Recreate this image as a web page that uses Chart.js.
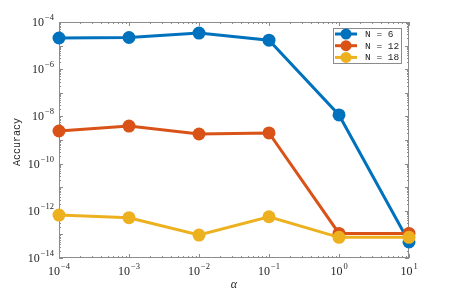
<!DOCTYPE html>
<html>
<head>
<meta charset="utf-8">
<script src="https://cdn.jsdelivr.net/npm/chart.js@4/dist/chart.umd.min.js"></script>
<style>
  html, body { margin: 0; padding: 0; background: #fff; }
  #wrap { width: 452px; height: 292px; }
</style>
</head>
<body>
<div id="wrap"><canvas id="myChart" width="452" height="292"></canvas></div>
<script>
const alphaValues = [1e-4, 1e-3, 1e-2, 1e-1, 1, 10];
const accN6 = [2.1e-5, 2.2e-5, 3.4e-5, 1.7e-5, 1.15e-8, 4.8e-14];
const accN12 = [2.4e-9, 3.9e-9, 1.8e-9, 2.0e-9, 1.1e-13, 1.1e-13];
const accN18 = [6.6e-13, 5.1e-13, 9.4e-14, 5.6e-13, 7.5e-14, 7.5e-14];
const seriesLabels = ['N = 6', 'N = 12', 'N = 18'];
const seriesColors = ['#0072BD', '#D95319', '#EDB120'];
const xTickExps = [-4, -3, -2, -1, 0, 1];
const yTickExps = [-14, -12, -10, -8, -6, -4];

function toPoints(ys) {
  return alphaValues.map((a, i) => ({ x: a, y: ys[i] }));
}

const axisColor = '#8c8c8c';
const textColor = '#262626';

// box, log ticks, superscript labels, titles and legend, matlab style
const matlabAxes = {
  id: 'matlabAxes',
  beforeDatasetsDraw(chart) {
    const { ctx, chartArea: ca } = chart;
    const xs = chart.scales.x;
    const ys = chart.scales.y;
    ctx.save();
    ctx.strokeStyle = axisColor;
    ctx.lineWidth = 1;
    ctx.strokeRect(ca.left + 0.5, ca.top + 0.5, ca.right - ca.left - 1, ca.bottom - ca.top - 1);

    ctx.beginPath();
    // x ticks
    for (let e = -4; e <= 1; e++) {
      for (let m = 1; m <= 9; m++) {
        const v = m * Math.pow(10, e);
        const px = Math.round(xs.getPixelForValue(v)) + 0.5;
        const len = m === 1 ? 4 : 2;
        ctx.moveTo(px, ca.bottom); ctx.lineTo(px, ca.bottom - len);
        ctx.moveTo(px, ca.top); ctx.lineTo(px, ca.top + len);
        if (e === 1) break;
      }
    }
    // y ticks
    for (let e = -14; e <= -4; e++) {
      for (let m = 1; m <= 9; m++) {
        const v = m * Math.pow(10, e);
        const py = Math.round(ys.getPixelForValue(v)) + 0.5;
        const len = m === 1 ? 4 : 2;
        ctx.moveTo(ca.left, py); ctx.lineTo(ca.left + len, py);
        ctx.moveTo(ca.right, py); ctx.lineTo(ca.right - len, py);
        if (e === -4) break;
      }
    }
    ctx.stroke();

    // tick labels with superscripts
    ctx.fillStyle = textColor;
    ctx.textBaseline = 'alphabetic';
    const baseFont = '12px "Liberation Serif"';
    const supFont = '8.5px "Liberation Serif"';
    xTickExps.forEach(e => {
      const px = xs.getPixelForValue(Math.pow(10, e));
      const sup = e < 0 ? '\u2212' + Math.abs(e) : String(e);
      ctx.font = baseFont;
      const wb = ctx.measureText('10').width;
      ctx.font = supFont;
      const ws = ctx.measureText(sup).width;
      const x0 = px - (wb + 1 + ws) / 2;
      ctx.font = baseFont;
      ctx.textAlign = 'left';
      ctx.fillText('10', x0, ca.bottom + 17);
      ctx.font = supFont;
      ctx.fillText(sup, x0 + wb + 1, ca.bottom + 11);
    });
    yTickExps.forEach(e => {
      const py = ys.getPixelForValue(Math.pow(10, e));
      const sup = '\u2212' + Math.abs(e);
      ctx.font = supFont;
      const ws = ctx.measureText(sup).width;
      ctx.textAlign = 'left';
      const xr = ca.left - 5;
      ctx.fillText(sup, xr - ws, py - 2);
      ctx.font = baseFont;
      ctx.textAlign = 'right';
      ctx.fillText('10', xr - ws - 1, py + 4);
    });

    // axis titles
    ctx.font = '10px "Liberation Mono"';
    ctx.textAlign = 'center';
    ctx.save();
    ctx.translate(17, (ca.top + ca.bottom) / 2 + 2);
    ctx.rotate(-Math.PI / 2);
    ctx.textBaseline = 'middle';
    ctx.fillText('Accuracy', 0, 0);
    ctx.restore();
    ctx.font = 'italic 12px "Liberation Serif"';
    ctx.textBaseline = 'alphabetic';
    ctx.fillText('\u03b1', (ca.left + ca.right) / 2, 288);
    ctx.restore();
  },
  afterDatasetsDraw(chart) {
    const { ctx } = chart;
    ctx.save();
    // legend
    const lx = 333, ly = 28, lw = 69, lh = 36;
    ctx.fillStyle = '#fff';
    ctx.fillRect(lx, ly, lw, lh);
    ctx.strokeStyle = axisColor;
    ctx.lineWidth = 1;
    ctx.strokeRect(lx + 0.5, ly + 0.5, lw - 1, lh - 1);
    seriesLabels.forEach((label, i) => {
      const yy = ly + 6 + i * 11.7;
      ctx.strokeStyle = seriesColors[i];
      ctx.lineWidth = 3;
      ctx.beginPath();
      ctx.moveTo(lx + 2, yy); ctx.lineTo(lx + 24, yy);
      ctx.stroke();
      ctx.fillStyle = seriesColors[i];
      ctx.beginPath();
      ctx.arc(lx + 13, yy, 5.5, 0, Math.PI * 2);
      ctx.fill();
      ctx.fillStyle = textColor;
      ctx.font = '9.5px "Liberation Mono"';
      ctx.textAlign = 'left';
      ctx.textBaseline = 'middle';
      ctx.fillText(label, lx + 32, yy + 0.5);
    });
    ctx.restore();
  }
};

const datasets = [accN6, accN12, accN18].map((ys, i) => ({
  label: seriesLabels[i],
  data: toPoints(ys),
  borderColor: seriesColors[i],
  backgroundColor: seriesColors[i],
  borderWidth: 3,
  pointRadius: 6.5,
  pointBorderWidth: 0,
  pointBackgroundColor: seriesColors[i],
  tension: 0,
  clip: false,
  order: 3 - i,
}));

new Chart(document.getElementById('myChart').getContext('2d'), {
  type: 'line',
  data: { datasets },
  options: {
    responsive: false,
    animation: false,
    devicePixelRatio: 1,
    layout: { padding: { left: 59, top: 22, right: 43, bottom: 34 }, autoPadding: false },
    plugins: { legend: { display: false }, tooltip: { enabled: false } },
    scales: {
      x: { type: 'logarithmic', min: 1e-4, max: 10, display: false },
      y: { type: 'logarithmic', min: 1e-14, max: 1e-4, display: false },
    },
  },
  plugins: [matlabAxes],
});
</script>
</body>
</html>
